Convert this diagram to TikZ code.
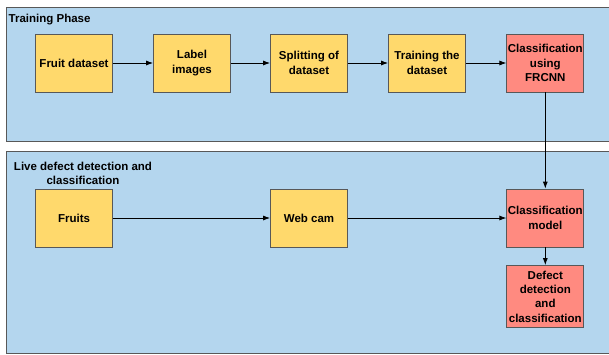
\documentclass[tikz,border=0pt]{standalone}
\usepackage{fontspec}
\setmainfont{Liberation Sans}
\usepackage{tikz}
\usetikzlibrary{arrows.meta}
\definecolor{panelblue}{RGB}{180,214,238}
\definecolor{boxyellow}{RGB}{255,217,108}
\definecolor{boxred}{RGB}{255,138,128}
\definecolor{edgegrey}{RGB}{88,88,88}

\begin{document}
\begin{tikzpicture}[
    x=1pt, y=-1pt,
    >={Latex[length=7pt,width=5pt]},
    panel/.style={
        draw=edgegrey,
        line width=0.9pt,
        fill=panelblue
    },
    paneltitle/.style={
        inner sep=0pt,
        align=center,
        font=\fontsize{11.5}{14}\selectfont\bfseries
    },
    stage/.style={
        draw=edgegrey,
        line width=0.8pt,
        fill=boxyellow,
        align=center,
        font=\fontsize{11.5}{14.3}\selectfont\bfseries,
        inner sep=1pt,
        minimum width=77pt,
        minimum height=58pt
    },
    model/.style={
        stage,
        fill=boxred
    },
    arrow/.style={->, line width=0.8pt}
]
\useasboundingbox (0,0) rectangle (609,354);

% PANELS
\draw[panel] (6,7) rectangle (612,141.5);
\draw[panel] (6,151) rectangle (612,353);

\node[paneltitle, anchor=west] (trainlbl) at (8.5,19.5)
{Training Phase};

\node[paneltitle] (livelbl) at (83,173)
{Live defect detection and\\classification};

% TRAINING PHASE
\node[stage] (fruitdata) at (74,63)
{Fruit dataset};

\node[stage] (labelimg) at (192,63)
{Label\\images};

\node[stage] (splitting) at (309,63)
{Splitting of\\dataset};

\node[stage] (training) at (427,63)
{Training the\\dataset};

\node[model] (frcnn) at (545.3,63)
{Classification\\using\\FRCNN};

\draw[arrow] (fruitdata) -- (labelimg);
\draw[arrow] (labelimg) -- (splitting);
\draw[arrow] (splitting) -- (training);
\draw[arrow] (training) -- (frcnn);

% LIVE DETECTION
\node[stage] (fruits) at (74,218)
{Fruits};

\node[stage] (webcam) at (309,218)
{Web cam};

\node[model] (clsmodel) at (545.3,218)
{Classification\\model};

\node[model, minimum height=62pt] (defect) at (545.3,296.5)
{Defect\\detection\\and\\classification};

\draw[arrow] (frcnn) -- (clsmodel);
\draw[arrow] (fruits) -- (webcam);
\draw[arrow] (webcam) -- (clsmodel);
\draw[arrow] (clsmodel) -- (defect);

\end{tikzpicture}
\end{document}
